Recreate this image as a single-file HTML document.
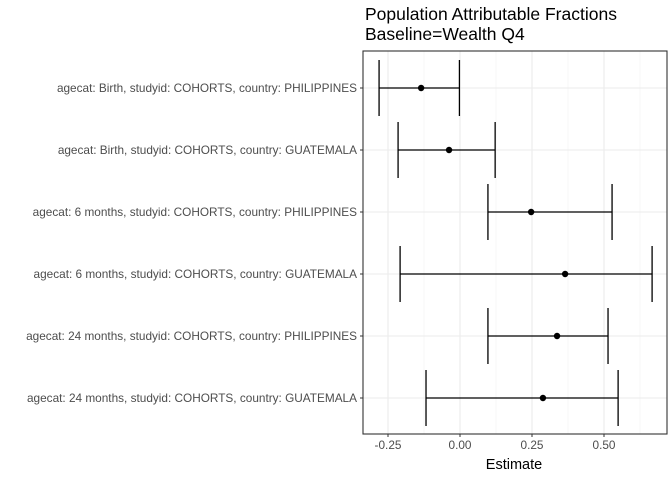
<!DOCTYPE html>
<html><head><meta charset="utf-8"><style>body{margin:0;background:#fff}svg{display:block;font-family:"Liberation Sans",sans-serif}</style></head>
<body>
<svg id="c" width="672" height="480"></svg>
<script>
const labels=["agecat: Birth, studyid: COHORTS, country: PHILIPPINES","agecat: Birth, studyid: COHORTS, country: GUATEMALA","agecat: 6 months, studyid: COHORTS, country: PHILIPPINES","agecat: 6 months, studyid: COHORTS, country: GUATEMALA","agecat: 24 months, studyid: COHORTS, country: PHILIPPINES","agecat: 24 months, studyid: COHORTS, country: GUATEMALA"];
const estimates=[-0.135,-0.038,0.247,0.365,0.337,0.288];
const lowers=[-0.281,-0.215,0.097,-0.208,0.097,-0.118];
const uppers=[-0.002,0.122,0.528,0.667,0.514,0.549];
const ticks=[-0.25,0,0.25,0.5];
const tickLabels=["-0.25","0.00","0.25","0.50"];
const svg=document.getElementById('c');const NS='http://www.w3.org/2000/svg';
const L=363,R=667,T=51,B=434;
const x=v=>460+v*288;const y=i=>88+i*62;
function mk(t,a,txt){const e=document.createElementNS(NS,t);for(const k in a)e.setAttribute(k,a[k]);if(txt!=null)e.textContent=txt;svg.appendChild(e);return e;}
let e=mk('rect',{x:L,y:T,width:R-L,height:B-T,fill:'#fff'});

for(let i=0;i<ticks.length-1;i++){e=mk('line',{x1:x((ticks[i]+ticks[i+1])/2),x2:x((ticks[i]+ticks[i+1])/2),y1:T,y2:B,stroke:'#f2f2f2','stroke-width':0.6});
}
e=mk('line',{x1:x(0.625),x2:x(0.625),y1:T,y2:B,stroke:'#f2f2f2','stroke-width':0.6});

ticks.forEach((t,i)=>{e=mk('line',{x1:x(t),x2:x(t),y1:T,y2:B,stroke:'#ebebeb','stroke-width':1.1});

e=mk('line',{x1:x(t),x2:x(t),y1:B,y2:B+3,stroke:'#333'});

e=mk('text',{x:x(t),y:B+15,'text-anchor':'middle','font-size':11.8,fill:'#4d4d4d'},tickLabels[i]);
});
labels.forEach((lb,i)=>{e=mk('line',{x1:L,x2:R,y1:y(i),y2:y(i),stroke:'#ebebeb','stroke-width':1.1});

e=mk('line',{x1:L-3,x2:L,y1:y(i),y2:y(i),stroke:'#333'});

e=mk('text',{x:L-6,y:y(i)+4,'text-anchor':'end','font-size':11.8,fill:'#4d4d4d'},lb);
});
labels.forEach((lb,i)=>{const g='#000';
e=mk('line',{x1:x(lowers[i]),x2:x(uppers[i]),y1:y(i),y2:y(i),stroke:g,'stroke-width':1.3});

e=mk('line',{x1:x(lowers[i]),x2:x(lowers[i]),y1:y(i)-28,y2:y(i)+28,stroke:g,'stroke-width':1.3});

e=mk('line',{x1:x(uppers[i]),x2:x(uppers[i]),y1:y(i)-28,y2:y(i)+28,stroke:g,'stroke-width':1.3});

e=mk('circle',{cx:x(estimates[i]),cy:y(i),r:3.2,fill:g});
});
e=mk('rect',{x:L,y:T,width:R-L,height:B-T,fill:'none',stroke:'#333','stroke-width':1.1});

e=mk('text',{x:(L+R)/2-1,y:469,'text-anchor':'middle','font-size':14.5,fill:'#000'},'Estimate');

e=mk('text',{x:365,y:20,'font-size':17.5,fill:'#000'},'Population Attributable Fractions');

e=mk('text',{x:365,y:40,'font-size':17.5,fill:'#000'},'Baseline=Wealth Q4');

</script>
</body></html>
